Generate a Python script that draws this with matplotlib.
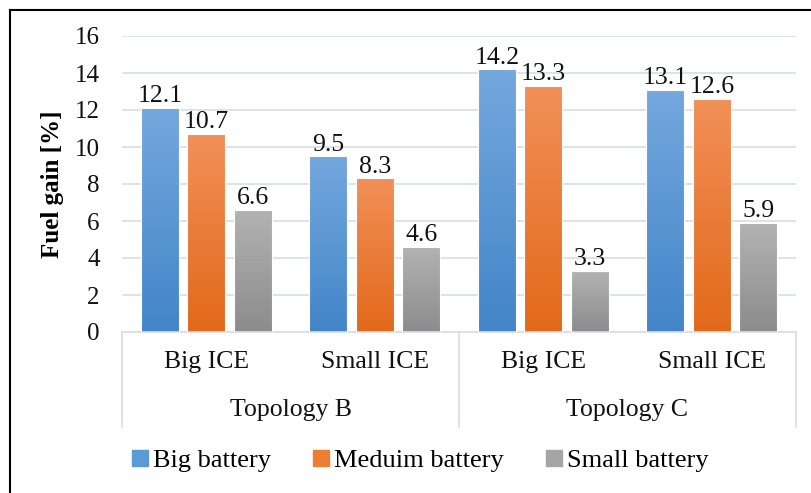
import numpy as np
import matplotlib
matplotlib.use("Agg")
from matplotlib import pyplot as plt
from matplotlib.colors import LinearSegmentedColormap
from matplotlib.lines import Line2D

# data
subcats = ["Big ICE", "Small ICE", "Big ICE", "Small ICE"]
groups = ["Topology B", "Topology C"]
series = ["Big battery", "Meduim battery", "Small battery"]
big_battery = [12.1, 9.5, 14.2, 13.1]
medium_battery = [10.7, 8.3, 13.3, 12.6]
small_battery = [6.6, 4.6, 3.3, 5.9]
yticks = [0, 2, 4, 6, 8, 10, 12, 14, 16]

# (top colour, bottom colour) for each series gradient
grad = [("#74A8DE", "#4285C8"), ("#F29058", "#E2691A"), ("#B3B3B3", "#8C8C8C")]
solid = ["#5B9BD5", "#ED7D31", "#A5A5A5"]

plt.rcParams['font.family'] = ['Liberation Serif', 'DejaVu Serif']

W, H = 811, 493
fig = plt.figure(figsize=(W / 100, H / 100), dpi=100)
ax = fig.add_axes([122 / W, 1 - 332 / H, (796 - 122) / W, (332 - 36) / H])

x = np.arange(len(subcats))
offset = 0.276
width = 0.2255
values = [big_battery, medium_battery, small_battery]

grad_img = np.linspace(1, 0, 256).reshape(-1, 1)
for k, vals in enumerate(values):
    bars = ax.bar(x + (k - 1) * offset, vals, width, color="none",
                  edgecolor="white", linewidth=0.8, zorder=3)
    cmap = LinearSegmentedColormap.from_list("g%d" % k, [grad[k][1], grad[k][0]])
    for b, v in zip(bars, vals):
        bx = b.get_x()
        im = ax.imshow(grad_img, extent=(bx, bx + b.get_width(), 0, v),
                       aspect="auto", cmap=cmap, vmin=0, vmax=1, zorder=2,
                       origin="upper")
        im.set_clip_path(b)
        ax.annotate("%.1f" % v, (bx + b.get_width() / 2, v), xytext=(0, 0.5),
                    textcoords="offset points", ha="center", va="bottom",
                    fontsize=18.5, color="#111111", zorder=4)

ax.set_xlim(-0.5, len(subcats) - 0.5)
ax.set_ylim(0, 16)
ax.set_yticks(yticks)
ax.set_yticklabels([str(t) for t in yticks], fontsize=18, color="#111111")
ax.tick_params(axis="y", length=0, pad=16)
ax.set_xticks([])
ax.yaxis.grid(True, color="#D9DDE4", linewidth=1.2)
ax.set_axisbelow(True)
for s in ["top", "right", "left"]:
    ax.spines[s].set_visible(False)
ax.spines["bottom"].set_color("#D9DDE4")
ax.spines["bottom"].set_linewidth(1.2)
ax.set_ylabel("Fuel gain [%]", fontsize=18, fontweight="bold", labelpad=8)

# multi-level category axis
trans = ax.get_xaxis_transform()
axis_h = 332 - 36
for xv in [-0.5, 1.5, 3.5]:
    ax.plot([xv, xv], [0, -(427 - 332) / axis_h], transform=trans,
            color="#D9DDE4", linewidth=1.2, clip_on=False)
for i, lab in enumerate(subcats):
    ax.text(i, -(362 - 332) / axis_h, lab, transform=trans, ha="center",
            va="center", fontsize=18.5, color="#111111")
for j, g in enumerate(groups):
    ax.text(2 * j + 0.5, -(410 - 332) / axis_h, g, transform=trans,
            ha="center", va="center", fontsize=18.5, color="#111111")

handles = [Line2D([], [], marker="s", linestyle="none", markersize=11,
                  markerfacecolor=c, markeredgecolor=c) for c in solid]
fig.legend(handles, series, loc="center", bbox_to_anchor=(419 / W, 1 - 460 / H),
           ncol=3, frameon=False, fontsize=19, handletextpad=0.1,
           columnspacing=1.5, handlelength=0.8)

# outer frame (top and left edges visible)
fig.add_artist(Line2D([10 / W, 10 / W], [0, 1 - 10 / H], color="black",
                      linewidth=1.5, transform=fig.transFigure))
fig.add_artist(Line2D([10 / W, 1], [1 - 10 / H, 1 - 10 / H], color="black",
                      linewidth=1.5, transform=fig.transFigure))

fig.savefig("out.png", dpi=100)
